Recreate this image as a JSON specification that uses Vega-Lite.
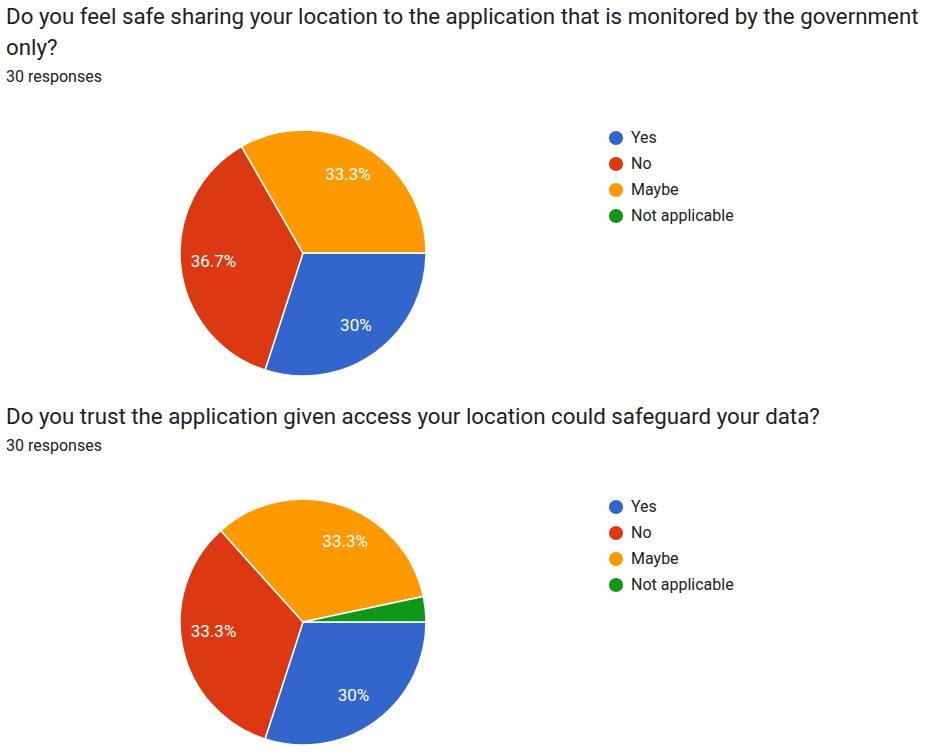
{
  "$schema": "https://vega.github.io/schema/vega-lite/v6.json",
  "padding": {"left": 6, "top": 5, "right": 0, "bottom": 0},
  "background": "white",
  "spacing": 26,
  "config": {
    "view": {"stroke": null},
    "font": "Roboto",
    "title": {"anchor": "start", "fontSize": 22.3, "fontWeight": "normal", "color": "#202124", "lineHeight": 31, "subtitleFontSize": 16, "subtitleColor": "#202124", "subtitlePadding": 10, "offset": 42, "frame": "group"},
    "legend": {"orient": "right", "offset": 8, "padding": 0, "title": null, "symbolType": "circle", "symbolSize": 200, "symbolStrokeWidth": 0, "labelFontSize": 16, "labelColor": "#202124", "labelFont": "Roboto", "rowPadding": 10, "labelOffset": 7}
  },
  "vconcat": [
    {
      "title": {"text": ["Do you feel safe sharing your location to the application that is monitored by the government", "only?"], "subtitle": "30 responses"},
      "width": 594,
      "height": 246,
      "data": {"values": [
        {"answer": "Yes", "rank": 1, "count": 9, "share": 0.3},
        {"answer": "No", "rank": 2, "count": 11, "share": 0.367},
        {"answer": "Maybe", "rank": 3, "count": 10, "share": 0.333}
      ]},
      "encoding": {
        "theta": {"field": "count", "type": "quantitative", "stack": "normalize", "scale": {"range": [1.5708, 7.854]}},
        "order": {"field": "rank", "type": "quantitative"},
        "color": {"field": "answer", "type": "nominal", "scale": {"domain": ["Yes", "No", "Maybe", "Not applicable"], "range": ["#3366cc", "#dc3912", "#ff9900", "#109618"]}, "sort": ["Yes", "No", "Maybe", "Not applicable"]}
      },
      "layer": [
        {"mark": {"type": "arc", "outerRadius": 123, "stroke": "white", "strokeWidth": 1.5}},
        {"transform": [{"filter": "datum.share > 0.05"}], "mark": {"type": "text", "radius": 90, "fontSize": 17, "font": "Roboto"}, "encoding": {"text": {"field": "share", "type": "quantitative", "format": ".1~%"}, "color": {"value": "white"}}}
      ]
    },
    {
      "title": {"text": "Do you trust the application given access your location could safeguard your data?", "subtitle": "30 responses"},
      "width": 594,
      "height": 246,
      "data": {"values": [
        {"answer": "Yes", "rank": 1, "count": 9, "share": 0.3},
        {"answer": "No", "rank": 2, "count": 10, "share": 0.333},
        {"answer": "Maybe", "rank": 3, "count": 10, "share": 0.333},
        {"answer": "Not applicable", "rank": 4, "count": 1, "share": 0.033}
      ]},
      "encoding": {
        "theta": {"field": "count", "type": "quantitative", "stack": "normalize", "scale": {"range": [1.5708, 7.854]}},
        "order": {"field": "rank", "type": "quantitative"},
        "color": {"field": "answer", "type": "nominal", "scale": {"domain": ["Yes", "No", "Maybe", "Not applicable"], "range": ["#3366cc", "#dc3912", "#ff9900", "#109618"]}, "sort": ["Yes", "No", "Maybe", "Not applicable"]}
      },
      "layer": [
        {"mark": {"type": "arc", "outerRadius": 123, "stroke": "white", "strokeWidth": 1.5}},
        {"transform": [{"filter": "datum.share > 0.05"}], "mark": {"type": "text", "radius": 90, "fontSize": 17, "font": "Roboto"}, "encoding": {"text": {"field": "share", "type": "quantitative", "format": ".1~%"}, "color": {"value": "white"}}}
      ]
    }
  ],
  "resolve": {"scale": {"color": "independent", "theta": "independent"}}
}
